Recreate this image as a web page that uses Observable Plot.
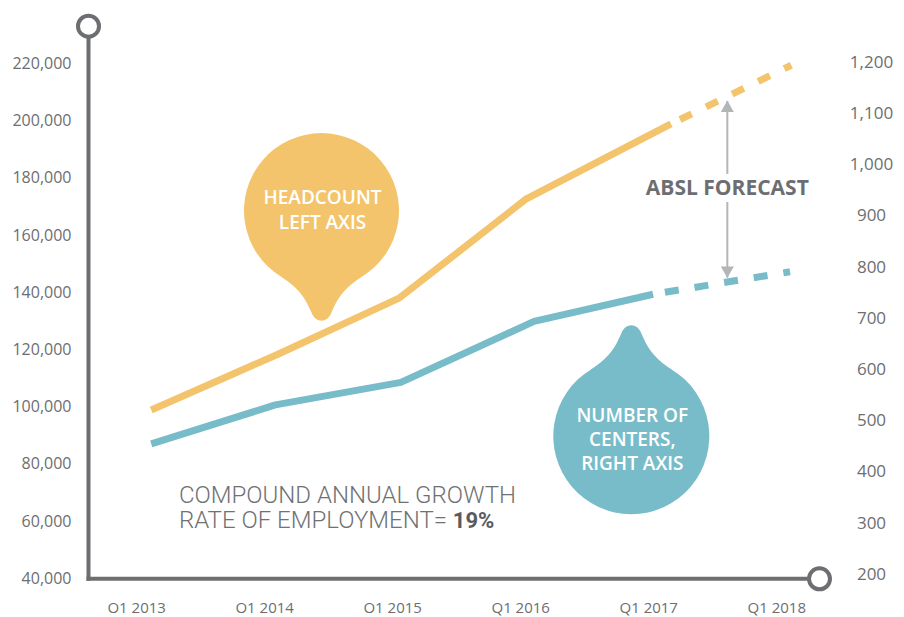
<!DOCTYPE html>
<html>
<head>
<meta charset="utf-8">
<script src="https://cdn.jsdelivr.net/npm/d3@7"></script>
<script src="https://cdn.jsdelivr.net/npm/@observablehq/plot@0.6"></script>
<style>
  html, body { margin: 0; padding: 0; background: #ffffff; }
</style>
</head>
<body>
<script>
// ---- data ----
const xYears = [2013, 2014, 2015, 2016, 2017, 2018];
const xLabels = ["O1 2013", "O1 2014", "O1 2015", "Q1 2016", "Q1 2017", "Q1 2018"];
const leftTicks = [40000, 60000, 80000, 100000, 120000, 140000, 160000, 180000, 200000, 220000];
const rightTicks = [200, 300, 400, 500, 600, 700, 800, 900, 1000, 1100, 1200];

// Headcount (left axis)
const headX = [2013.0, 2013.99, 2014.94, 2015.93, 2017.06];
const headcount = [99000, 118500, 138200, 172800, 199000];
const headFcX = [2017.06, 2018.0];
const headFc = [199000, 219500];

// Number of centers (right axis)
const centersX = [2013.0, 2013.97, 2014.95, 2015.99, 2016.92];
const centers = [455, 531, 575, 694, 747];
const centersFcX = [2016.92, 2017.99];
const centersFc = [747, 791];

// annotation texts
const bubbleLabels = ["HEADCOUNT\nLEFT AXIS", "NUMBER OF\nCENTERS,\nRIGHT AXIS"];
const bubbleX = [2014.33, 2016.75];
const bubbleY = [168700, 89840];
const forecastLabel = "ABSL FORECAST";
const forecastX = 2017.5;
const forecastY = 176500;
const growthLabel = "COMPOUND ANNUAL GROWTH\nRATE OF EMPLOYMENT= 19%";

// ---- styling ----
const gray = "#6d6e71";
const orange = "#f3c46c";
const teal = "#79bcc9";
const arrowGray = "#b4b5b7";

const xDom = [2012.51, 2018.22];
const yDom = [40000, 220000];
const yTopCircle = 233150;
// right axis aligned against left axis
const rightToLeft = d3.scaleLinear([200, 1200], [41510, 220560]);

function balloon(dir) {
  return {
    draw(ctx, size) {
      const R = Math.sqrt(size / Math.PI);
      const k = R / 77.5;
      const p = (x, y) => [x * k, y * k * dir];
      ctx.moveTo(...p(-40, 66.4));
      ctx.bezierCurveTo(...p(-22, 78), ...p(-16, 88), ...p(-10, 102));
      ctx.bezierCurveTo(...p(-6, 113), ...p(6, 113), ...p(10, 102));
      ctx.bezierCurveTo(...p(16, 88), ...p(22, 78), ...p(40, 66.4));
      const a1 = Math.atan2(66.4 * dir, 40);
      const a2 = Math.atan2(66.4 * dir, -40);
      ctx.arc(0, 0, R, a1, a2, dir === 1);
      ctx.closePath();
    }
  };
}
const triUp = { draw(ctx) { ctx.moveTo(0, 0); ctx.lineTo(6.5, 11.5); ctx.lineTo(-6.5, 11.5); ctx.closePath(); } };
const triDown = { draw(ctx) { ctx.moveTo(0, 0); ctx.lineTo(6.5, -11.5); ctx.lineTo(-6.5, -11.5); ctx.closePath(); } };

const axisLines = [
  {x1: xDom[0], y1: yDom[0], x2: xDom[0], y2: yTopCircle},
  {x1: xDom[0], y1: yDom[0], x2: xDom[1], y2: yDom[0]}
];
const axisEnds = [{x: xDom[0], y: yTopCircle}, {x: xDom[1], y: yDom[0]}];
const arrowLinks = [
  {x: forecastX, y1: 207000, y2: 181500},
  {x: forecastX, y1: 171700, y2: 145300}
];

const plot = Plot.plot({
  width: 904,
  height: 617,
  marginLeft: 71,
  marginRight: 33,
  marginTop: 0,
  marginBottom: 9,
  style: {fontFamily: "'Open Sans', sans-serif", background: "#ffffff", color: gray, overflow: "visible"},
  x: {domain: xDom, range: [88, 819], axis: null},
  y: {domain: yDom, range: [578.3, 63.3], axis: null},
  marks: [
    // bubbles
    Plot.dot([0], {x: [bubbleX[0]], y: [bubbleY[0]], r: 77.5, symbol: balloon(1), fill: orange, stroke: "none"}),
    Plot.dot([0], {x: [bubbleX[1]], y: [bubbleY[1]], r: 78, symbol: balloon(-1), fill: teal, stroke: "none"}),
    Plot.text([bubbleLabels[0]], {x: [bubbleX[0]], y: [bubbleY[0]], text: d => d, dy: -2, dx: 1,
      fill: "#ffffff", fontSize: 19, fontWeight: 600, lineHeight: 1.28, lineAnchor: "middle"}),
    Plot.text([bubbleLabels[1]], {x: [bubbleX[1]], y: [bubbleY[1]], text: d => d, dy: 2, dx: 1,
      fill: "#ffffff", fontSize: 19, fontWeight: 600, lineHeight: 1.28, lineAnchor: "middle"}),

    // series
    Plot.line(headcount, {x: headX, y: headcount, stroke: orange, strokeWidth: 7, strokeLinecap: "butt", strokeLinejoin: "round"}),
    Plot.line(headFc, {x: headFcX, y: headFc, stroke: orange, strokeWidth: 7, strokeLinecap: "butt",
      strokeDasharray: "13,16", strokeDashoffset: 19}),
    Plot.line(centers, {x: centersX, y: centers.map(rightToLeft), stroke: teal, strokeWidth: 7, strokeLinecap: "butt", strokeLinejoin: "round"}),
    Plot.line(centersFc, {x: centersFcX, y: centersFc.map(rightToLeft), stroke: teal, strokeWidth: 7, strokeLinecap: "butt",
      strokeDasharray: "14,16", strokeDashoffset: 18}),

    // forecast arrow + label
    Plot.link(arrowLinks, {x1: "x", x2: "x", y1: "y1", y2: "y2", stroke: arrowGray, strokeWidth: 2}),
    Plot.dot([0], {x: [forecastX], y: [207170], symbol: triUp, fill: arrowGray, stroke: "none"}),
    Plot.dot([0], {x: [forecastX], y: [145160], symbol: triDown, fill: arrowGray, stroke: "none"}),
    Plot.text([forecastLabel], {x: [forecastX], y: [forecastY], text: d => d, fill: gray, fontSize: 21, fontWeight: 700}),

    // growth annotation
    Plot.text([growthLabel], {x: [2013.216], y: [64920], text: d => d, textAnchor: "start", lineAnchor: "middle",
      fill: "#707173", fontSize: 24, fontWeight: 300, fontFamily: "Roboto, sans-serif", lineHeight: 1.06}),

    // axes frame
    Plot.link(axisLines, {x1: "x1", y1: "y1", x2: "x2", y2: "y2", stroke: gray, strokeWidth: 4, strokeLinecap: "square"}),
    Plot.dot(axisEnds, {x: "x", y: "y", r: 10.5, fill: "#ffffff", stroke: gray, strokeWidth: 4}),

    // tick labels
    Plot.text(leftTicks, {y: d => d, text: d => d3.format(",")(d), frameAnchor: "left", textAnchor: "end",
      fill: gray, fontSize: 16}),
    Plot.text(rightTicks, {y: d => rightToLeft(d), text: d => d3.format(",")(d), frameAnchor: "right", textAnchor: "middle",
      fill: gray, fontSize: 17}),
    Plot.text(xLabels, {x: (d, i) => xYears[i], text: d => d, frameAnchor: "bottom", lineAnchor: "middle", dx: -14.6,
      fill: gray, fontSize: 15})
  ]
});

// bold "19%"
plot.querySelectorAll("tspan, text").forEach(el => {
  if (el.children.length === 0 && el.textContent === "RATE OF EMPLOYMENT= 19%") {
    el.textContent = "RATE OF EMPLOYMENT= ";
    const t = document.createElementNS("http://www.w3.org/2000/svg", "tspan");
    t.textContent = "19%";
    t.setAttribute("font-weight", "700");
    t.setAttribute("font-size", "22");
    t.setAttribute("fill", "#5a5b5e");
    el.appendChild(t);
  }
});

document.body.appendChild(plot);
</script>
</body>
</html>
